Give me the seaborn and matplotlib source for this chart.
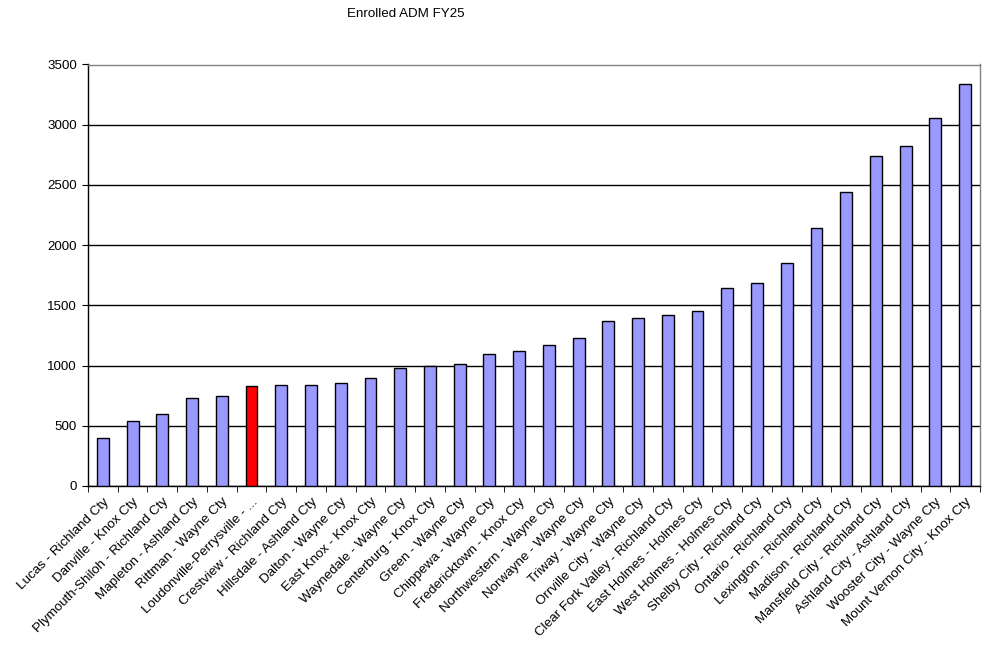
import matplotlib
matplotlib.use("Agg")
import matplotlib.pyplot as plt
import seaborn as sns
import pandas as pd
import numpy as np

districts = [
    "Lucas - Richland Cty", "Danville - Knox Cty", "Plymouth-Shiloh - Richland Cty",
    "Mapleton - Ashland Cty", "Rittman - Wayne Cty", "Loudonville-Perrysville - ...",
    "Crestview - Richland Cty", "Hillsdale - Ashland Cty", "Dalton - Wayne Cty",
    "East Knox - Knox Cty", "Waynedale - Wayne Cty", "Centerburg - Knox Cty",
    "Green - Wayne Cty", "Chippewa - Wayne Cty", "Fredericktown - Knox Cty",
    "Northwestern - Wayne Cty", "Norwayne - Wayne Cty", "Triway - Wayne Cty",
    "Orrville City - Wayne Cty", "Clear Fork Valley - Richland Cty",
    "East Holmes - Holmes Cty", "West Holmes - Holmes Cty", "Shelby City - Richland Cty",
    "Ontario - Richland Cty", "Lexington - Richland Cty", "Madison - Richland Cty",
    "Mansfield City - Richland Cty", "Ashland City - Ashland Cty",
    "Wooster City - Wayne Cty", "Mount Vernon City - Knox Cty",
]
adm = [395, 536, 594, 727, 744, 827, 835, 835, 852, 893, 976, 993, 1017, 1092,
       1117, 1167, 1225, 1374, 1391, 1424, 1457, 1648, 1689, 1855, 2145, 2444,
       2742, 2825, 3057, 3339]
highlight = "Loudonville-Perrysville - ..."
yticks = [0, 500, 1000, 1500, 2000, 2500, 3000, 3500]
title = "Enrolled ADM FY25"

plt.rcParams['font.family'] = ['Liberation Sans', 'DejaVu Sans']
FS = 9.6

df = pd.DataFrame({"district": districts, "adm": adm})
palette = {d: ("#FF0000" if d == highlight else "#9999FF") for d in districts}

fig = plt.figure(figsize=(9.88, 6.5), dpi=100)
ax = fig.add_axes([88/988, 1 - 486/650, (980-88)/988, (486-64.5)/650])

sns.barplot(data=df, x="district", y="adm", hue="district", palette=palette,
            legend=False, width=0.4, edgecolor="black", linewidth=1,
            saturation=1, ax=ax, zorder=3)

ax.set_ylim(0, 3500)
ax.set_xlim(-0.5, len(districts) - 0.5)
ax.set_yticks(yticks)
ax.set_yticklabels([str(v) for v in yticks], fontsize=FS)
ax.set_xlabel("")
ax.set_ylabel("")
ax.yaxis.grid(True, color="black", linewidth=1, zorder=0)
ax.set_axisbelow(True)

ax.set_xticks(range(len(districts)))
ax.set_xticklabels(districts, rotation=45, ha="right", rotation_mode="anchor", fontsize=FS)
ax.tick_params(axis="x", which="major", length=0, pad=7)
ax.set_xticks(np.arange(-0.5, len(districts), 1), minor=True)
ax.tick_params(axis="x", which="minor", length=4, direction="out", color="black")
ax.tick_params(axis="y", length=4, direction="out", color="black", pad=4)

for side in ["top", "right"]:
    ax.spines[side].set_color("#808080")
    ax.spines[side].set_linewidth(1)
for side in ["left", "bottom"]:
    ax.spines[side].set_color("black")
    ax.spines[side].set_linewidth(1)

fig.text(406/988, 1 - 14/650, title, ha="center", va="center", fontsize=FS)

fig.savefig("out.png", dpi=100)
